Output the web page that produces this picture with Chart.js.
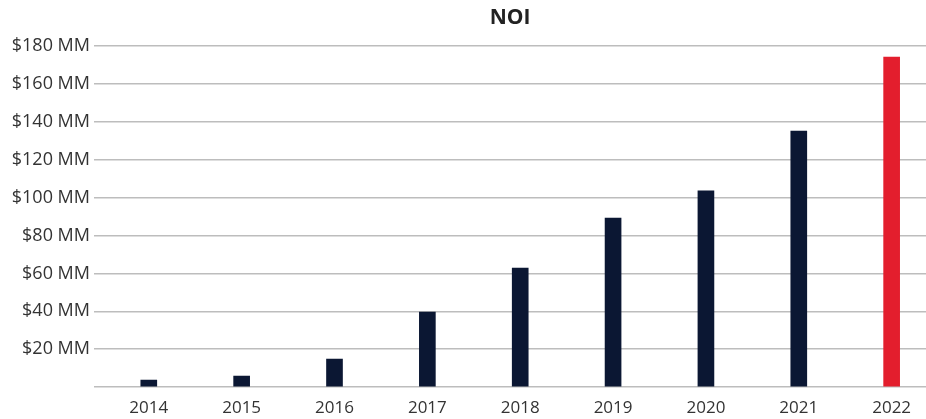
<!DOCTYPE html>
<html>
<head>
<meta charset="utf-8">
<script src="https://cdn.jsdelivr.net/npm/chart.js@4"></script>
<style>
	html, body { margin: 0; padding: 0; background: #fff; }
	#wrap { width: 926px; height: 419px; position: relative; }
</style>
</head>
<body>
<div id="wrap"><canvas id="noiChart"></canvas></div>
<script>
// NOI by year, $ MM
const years = [2014, 2015, 2016, 2017, 2018, 2019, 2020, 2021, 2022];
const noi = [3.7, 5.8, 14.8, 39.6, 62.8, 89.2, 103.6, 135.2, 174.2];
const yTicks = [0, 20, 40, 60, 80, 100, 120, 140, 160, 180];

const navy = '#0b1733';
const red = '#e31e2d';

const ctx = document.getElementById('noiChart').getContext('2d');
new Chart(ctx, {
	type: 'bar',
	data: {
		datasets: [{
			label: 'NOI',
			data: years.map((y, i) => ({ x: y, y: noi[i] })),
			backgroundColor: years.map((y, i) => i === years.length - 1 ? red : navy),
			barThickness: 16,
			borderWidth: 0,
		}]
	},
	options: {
		responsive: true,
		maintainAspectRatio: false,
		animation: false,
		layout: { padding: { left: 0, right: 0, top: 0, bottom: 0 } },
		plugins: {
			legend: { display: false },
			tooltip: { enabled: false },
			title: {
				display: true,
				text: 'NOI',
				fullSize: false,
				color: '#222',
				font: { family: 'Open Sans', size: 21, weight: 'bold' },
				padding: { top: 5, bottom: 16 }
			}
		},
		scales: {
			x: {
				type: 'linear',
				offset: false,
				min: 2013.41,
				max: 2022.37,
				afterBuildTicks: s => { s.ticks = years.map(v => ({ value: v })); },
				afterFit: s => { s.height = 32; },
				grid: { display: false },
				border: { display: false },
				ticks: {
					color: '#333',
					padding: 3,
					font: { family: 'Open Sans', size: 17 },
					callback: v => String(v)
				}
			},
			y: {
				min: 0,
				max: 180,
				afterBuildTicks: s => { s.ticks = yTicks.map(v => ({ value: v })); },
				afterFit: s => { s.width = 94; },
				border: { display: false },
				grid: {
					color: '#bdbdbd',
					lineWidth: 1.5,
					drawTicks: false
				},
				ticks: {
					color: '#333',
					padding: 4,
					font: { family: 'Open Sans', size: 18 },
					callback: v => v === 0 ? '' : '$' + v + ' MM'
				}
			}
		}
	}
});
</script>
</body>
</html>
